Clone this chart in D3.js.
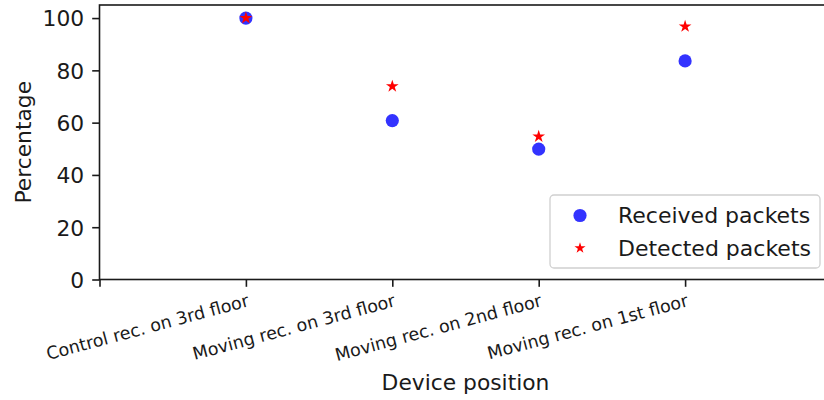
<!DOCTYPE html>
<html>
<head>
<meta charset="utf-8">
<script src="https://cdn.jsdelivr.net/npm/d3@7"></script>
<style>
  html, body { margin: 0; padding: 0; background: #fff; }
  svg { display: block; font-family: "DejaVu Sans", sans-serif; }
</style>
</head>
<body>
<svg id="chart" width="824" height="400"></svg>
<script>
// Device positions (x = 1..4), tick 0 left unlabeled
const positions = ["Control rec. on 3rd floor", "Moving rec. on 3rd floor", "Moving rec. on 2nd floor", "Moving rec. on 1st floor"];
const receivedPackets = [100, 60.8, 49.9, 83.6];
const detectedPackets = [100, 73.9, 54.7, 96.8];
const yTicks = [0, 20, 40, 60, 80, 100];
const xTicks = [0, 1, 2, 3, 4];
const seriesNames = ["Received packets", "Detected packets"];

const svg = d3.select("#chart");
const plotL = 99.5, plotR = 831.5, plotT = 5, plotB = 279.5;

const x = d3.scaleLinear().domain([0, 5]).range([plotL, plotR]);
const y = d3.scaleLinear().domain([0, 105]).range([plotB, plotT]);

const ink = "#1a1a1a";
const mainFont = 21.8, xTickFont = 17.5;

// Y axis
const yAxis = svg.append("g")
  .attr("transform", `translate(${plotL},0)`)
  .call(d3.axisLeft(y).tickValues(yTicks).tickSize(7.3).tickPadding(8).tickFormat(d3.format("d")));
yAxis.select(".domain").remove();
yAxis.selectAll(".tick line").attr("stroke", ink).attr("stroke-width", 1.6);
yAxis.selectAll(".tick text").attr("fill", ink).attr("font-size", mainFont)
  .attr("font-family", "DejaVu Sans").attr("dy", "0.36em");

// X axis
const xAxis = svg.append("g")
  .attr("transform", `translate(0,${plotB})`)
  .call(d3.axisBottom(x).tickValues(xTicks).tickSize(7.3).tickFormat(() => ""));
xAxis.select(".domain").remove();
xAxis.selectAll(".tick line").attr("stroke", ink).attr("stroke-width", 1.6);
xAxis.selectAll(".tick text").remove();

// Rotated category labels, right end anchored at each tick
svg.append("g").selectAll("text")
  .data(positions)
  .join("text")
  .attr("transform", (d, i) => `translate(${x(i + 1) + 4},306) rotate(-15)`)
  .attr("text-anchor", "end")
  .attr("font-size", xTickFont)
  .attr("fill", ink)
  .text(d => d);

// Spines
svg.append("rect")
  .attr("x", plotL).attr("y", plotT)
  .attr("width", plotR - plotL).attr("height", plotB - plotT)
  .attr("fill", "none").attr("stroke", ink).attr("stroke-width", 1.6);

// Axis titles
svg.append("text")
  .attr("transform", `translate(31,${(plotT + plotB) / 2}) rotate(-90)`)
  .attr("text-anchor", "middle")
  .attr("font-size", mainFont)
  .attr("fill", ink)
  .text("Percentage");

svg.append("text")
  .attr("x", (plotL + plotR) / 2).attr("y", 389.5)
  .attr("text-anchor", "middle")
  .attr("font-size", mainFont)
  .attr("fill", ink)
  .text("Device position");

// Markers
const star = d3.symbol().type(d3.symbolStar).size(50);

svg.append("g").selectAll("circle")
  .data(receivedPackets)
  .join("circle")
  .attr("cx", (d, i) => x(i + 1))
  .attr("cy", d => y(d))
  .attr("r", 6.6)
  .attr("fill", "blue")
  .attr("fill-opacity", 0.8);

svg.append("g").selectAll("path")
  .data(detectedPackets)
  .join("path")
  .attr("transform", (d, i) => `translate(${x(i + 1)},${y(d)})`)
  .attr("d", star)
  .attr("fill", "red");

// Legend (lower right)
const lg = svg.append("g");
lg.append("rect")
  .attr("x", 550).attr("y", 195).attr("width", 270).attr("height", 73)
  .attr("rx", 4)
  .attr("fill", "#fff").attr("fill-opacity", 0.8)
  .attr("stroke", "#d0d0d0").attr("stroke-width", 1.3);
lg.append("circle")
  .attr("cx", 580).attr("cy", 215.5).attr("r", 6.6)
  .attr("fill", "blue").attr("fill-opacity", 0.8);
lg.append("path")
  .attr("transform", "translate(580,248)")
  .attr("d", d3.symbol().type(d3.symbolStar).size(38))
  .attr("fill", "red");
lg.selectAll("text")
  .data(seriesNames)
  .join("text")
  .attr("x", 618)
  .attr("y", (d, i) => 215.5 + i * 32.5)
  .attr("dy", "0.36em")
  .attr("font-size", 22)
  .attr("fill", ink)
  .text(d => d);
</script>
</body>
</html>
